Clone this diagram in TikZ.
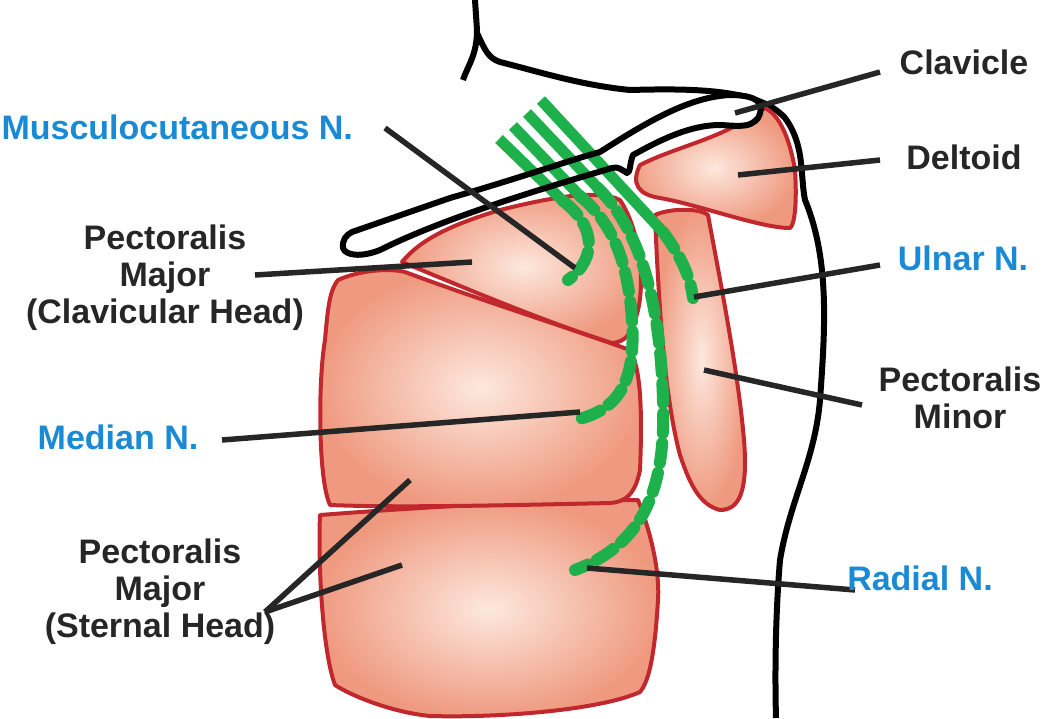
\documentclass[tikz,border=0pt]{standalone}
\usepackage{fontspec}
\setmainfont{Liberation Sans}
\begin{document}
\definecolor{mred}{HTML}{C0282D}
\definecolor{mout}{HTML}{EF9A80}
\definecolor{min}{HTML}{FDE8DE}
\definecolor{ngreen}{HTML}{1DB04B}
\definecolor{lblue}{HTML}{1A8AD4}
\begin{tikzpicture}[x=1pt,y=-1pt,
 muscle/.style={draw=mred,line width=4pt,inner color=min,outer color=mout,line join=round},
 outline/.style={draw=black,line width=6pt,line join=round},
 nsolid/.style={draw=ngreen,line width=11pt},
 ndash/.style={draw=ngreen,line width=12pt,dash pattern=on 20pt off 10pt,line cap=round},
 leader/.style={draw=black!85,line width=5.5pt},
 lbl/.style={font=\fontsize{34}{37}\selectfont\bfseries,text=black!85,align=center},
 blbl/.style={font=\fontsize{34}{37}\selectfont\bfseries,text=lblue,align=center}]
\useasboundingbox (0,0) rectangle (1050,718);
\def\claviclepath{(352,232) -- (450,198) .. controls (520,178) and (570,160) .. (600,152) .. controls (650,120) and (690,97) .. (730,95) .. controls (760,95) and (765,105) .. (758,118) .. controls (750,128) and (740,126) .. (720,125) .. controls (690,125) and (660,140) .. (633,155) .. controls (629,165) and (631,172) .. (627,173) .. controls (622,170) and (618,166) .. (612,168) .. controls (530,192) and (440,220) .. (380,250) .. controls (360,258) and (345,255) .. (343,248) .. controls (342,240) and (346,235) .. (352,232) -- cycle}
% body outline
\draw[outline] (475,0) -- (477,30) .. controls (477,55) and (468,65) .. (463,80);
\draw[outline] (477,33) .. controls (485,50) and (488,58) .. (500,62) .. controls (540,72) and (580,85) .. (630,90) .. controls (700,88) and (760,90) .. (785,118) .. controls (805,145) and (800,175) .. (805,200) .. controls (830,260) and (825,330) .. (820,400) .. controls (815,460) and (790,500) .. (780,560) .. controls (775,620) and (775,680) .. (776,718);
% muscles
\path[muscle] (320,515) .. controls (450,505) and (560,500) .. (638,500) .. controls (650,530) and (660,570) .. (658,600) .. controls (655,650) and (650,680) .. (640,692) .. controls (600,710) and (500,718) .. (430,716) .. controls (390,712) and (350,695) .. (335,685) .. controls (322,650) and (318,560) .. (320,515) -- cycle;
\path[muscle] (338,280) .. controls (360,270) and (390,268) .. (405,272) .. controls (480,300) and (560,325) .. (630,350) .. controls (642,370) and (642,420) .. (640,470) .. controls (635,495) and (625,502) .. (610,503) .. controls (520,505) and (400,508) .. (330,505) .. controls (318,480) and (318,380) .. (325,340) .. controls (328,305) and (330,290) .. (338,280) -- cycle;
\path[muscle] (402,262) .. controls (420,240) and (450,225) .. (500,210) .. controls (560,195) and (600,190) .. (620,200) .. controls (640,230) and (645,280) .. (638,310) .. controls (632,335) and (625,342) .. (612,343) .. controls (540,320) and (470,290) .. (402,262) -- cycle;
\path[muscle] (655,215) .. controls (670,208) and (700,208) .. (708,215) .. controls (720,280) and (738,370) .. (744,440) .. controls (748,490) and (740,510) .. (720,510) .. controls (700,505) and (690,485) .. (680,455) .. controls (668,410) and (660,340) .. (655,215) -- cycle;
\path[muscle] (640,165) .. controls (680,145) and (720,140) .. (765,108) .. controls (780,115) and (790,140) .. (795,170) .. controls (797,200) and (795,225) .. (790,228) .. controls (760,228) and (700,205) .. (660,198) .. controls (640,195) and (630,185) .. (640,165) -- cycle;
% clavicle fill
\fill[white] \claviclepath;
% nerves solid
\draw[nsolid] (541,100) -- (663,232);
\draw[nsolid] (527,113) -- (598,188);
\draw[nsolid] (513,126) -- (580,196);
\draw[nsolid] (499,139) -- (563,201);
% nerves dashed
\draw[ndash] (563,201) .. controls (595,225) and (598,258) .. (568,280);
\draw[ndash] (580,196) .. controls (615,225) and (628,265) .. (632,320) .. controls (636,380) and (620,410) .. (575,420);
\draw[ndash] (598,188) .. controls (640,230) and (660,300) .. (663,400) .. controls (665,470) and (655,540) .. (575,570);
\draw[ndash] (663,232) .. controls (680,255) and (690,275) .. (693,298);
% clavicle outline
\draw[outline] \claviclepath;
% leaders
\draw[leader] (880,72) -- (735,113);
\draw[leader] (880,160) -- (738,175);
\draw[leader] (385,128) -- (575,268);
\draw[leader] (255,275) -- (472,262);
\draw[leader] (880,265) -- (694,297);
\draw[leader] (862,405) -- (704,370);
\draw[leader] (222,440) -- (580,412);
\draw[leader] (265,612) -- (410,480);
\draw[leader] (265,612) -- (402,565);
\draw[leader] (855,590) -- (587,568);
% labels
\node[lbl] (cl) at (964,62) {Clavicle};
\node[lbl] (de) at (964,157) {Deltoid};
\node[blbl,anchor=west] (mu) at (-2,127) {Musculocutaneous N.};
\node[lbl] (pc) at (165,278) {Pectoralis\\Major\\(Clavicular Head)};
\node[blbl] (ul) at (963,258) {Ulnar N.};
\node[lbl] (pm) at (960,398) {Pectoralis\\Minor};
\node[blbl] (me) at (118,437) {Median N.};
\node[lbl] (ps) at (160,592) {Pectoralis\\Major\\(Sternal Head)};
\node[blbl] (ra) at (920,578) {Radial N.};
\end{tikzpicture}
\end{document}
